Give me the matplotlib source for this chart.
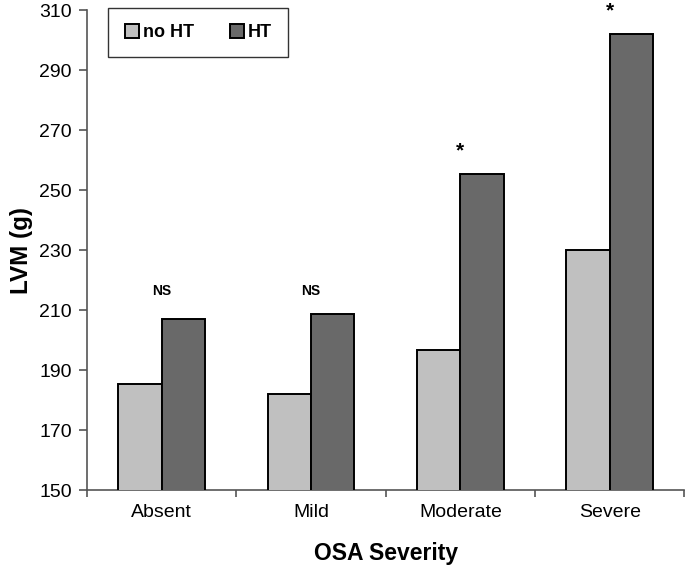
import numpy as np
import matplotlib.pyplot as plt

categories = ['Absent', 'Mild', 'Moderate', 'Severe']
no_ht = [185.3, 182.0, 196.6, 230.2]
ht = [207.0, 208.8, 255.4, 302.0]
signif = ['NS', 'NS', '*', '*']

plt.rcParams['font.family'] = ['Liberation Sans', 'DejaVu Sans']

fig = plt.figure(figsize=(6.85, 5.66), dpi=100)
ax = fig.add_axes([0.127, 0.134, 0.872, 0.848])

x = np.arange(len(categories))
w = 0.29
ax.bar(x - w/2, no_ht, w, color='#c0c0c0', edgecolor='black', linewidth=1.4, label='no HT', zorder=3)
ax.bar(x + w/2, ht, w, color='#696969', edgecolor='black', linewidth=1.4, label='HT', zorder=3)

# significance marks above each group
for i, s in enumerate(signif):
    top = max(no_ht[i], ht[i])
    if s == 'NS':
        ax.annotate(s, (x[i], 210.0), xytext=(0, 9), textcoords='offset points',
                    ha='center', va='bottom', fontsize=10, fontweight='bold',
                    annotation_clip=False)
    else:
        ax.annotate(s, (x[i], top), xytext=(0, 10), textcoords='offset points',
                    ha='center', va='bottom', fontsize=15, fontweight='bold',
                    annotation_clip=False)

ax.set_xlim(-0.5, 3.5)
ax.set_ylim(150, 310)
ax.set_yticks(np.arange(150, 311, 20))
ax.set_xticks(x)
ax.set_xticklabels(categories, fontsize=14)
ax.set_xticks(np.arange(-0.5, 3.6, 1), minor=True)
ax.tick_params(axis='x', which='major', length=0, pad=10)
ax.tick_params(axis='x', which='minor', length=5, color='#555555', width=1.2)
ax.tick_params(axis='y', labelsize=14, length=6, color='#555555', width=1.2, pad=5)

for side in ['top', 'right']:
    ax.spines[side].set_visible(False)
for side in ['left', 'bottom']:
    ax.spines[side].set_color('#555555')
    ax.spines[side].set_linewidth(1.2)

ax.set_ylabel('LVM (g)', fontsize=17.5, fontweight='bold', va='center')
ax.yaxis.set_label_coords(-0.11, 0.5)
ax.set_xlabel('OSA Severity', fontsize=16.5, fontweight='bold', labelpad=15)

leg = ax.legend(loc='upper left', bbox_to_anchor=(0.036, 1.005), ncol=2, frameon=True,
                fancybox=False, edgecolor='black',
                prop={'weight': 'bold', 'size': 13},
                handlelength=0.8, handleheight=0.8, handletextpad=0.2, columnspacing=2.0,
                borderpad=0.9, borderaxespad=0)
leg.get_frame().set_linewidth(1.0)

fig.savefig('out.png', dpi=100)
